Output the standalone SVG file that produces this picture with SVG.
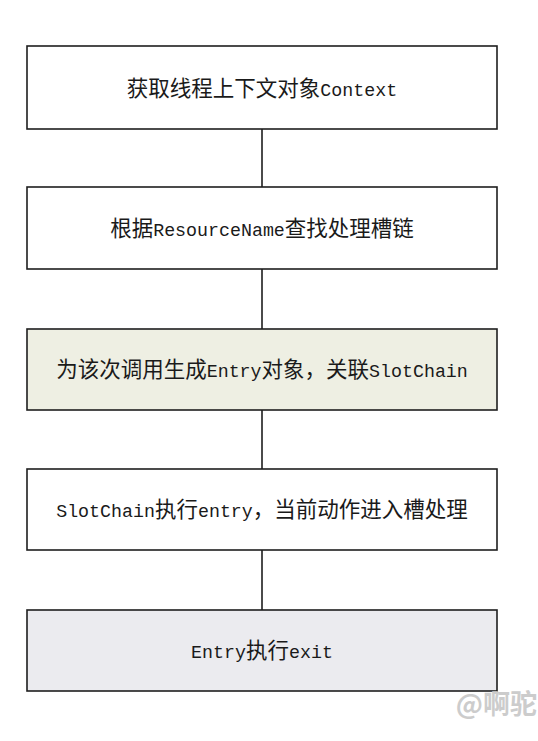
<svg xmlns="http://www.w3.org/2000/svg" width="538" height="741" viewBox="0 0 538 741">
<style>
.box{stroke:#1e1e1e;stroke-width:1.6}
.t{font-family:"Noto Sans CJK SC","DejaVu Sans",sans-serif;font-size:21.5px;fill:#1a1a1a;text-anchor:middle}
.m{font-family:"Liberation Mono","DejaVu Sans Mono",monospace;font-size:18.3px}
.c{stroke:#1e1e1e;stroke-width:1.6;fill:none}
.wm{font-family:"Noto Sans CJK SC",sans-serif;font-size:27px;font-weight:bold;fill:#cccccc}
</style>
<rect width="538" height="741" fill="#ffffff"/>
<g id="connectors">
<line class="c" x1="262" y1="129" x2="262" y2="187"/>
<line class="c" x1="262" y1="269" x2="262" y2="329"/>
<line class="c" x1="262" y1="410" x2="262" y2="469"/>
<line class="c" x1="262" y1="550" x2="262" y2="610"/>
</g>
<g id="n1">
<rect class="box" x="27" y="46" width="470" height="83" fill="#ffffff"/>
<text class="t" x="262" y="95.5">获取线程上下文对象<tspan class="m">Context</tspan></text>
</g>
<g id="n2">
<rect class="box" x="27" y="187" width="470" height="82" fill="#ffffff"/>
<text class="t" x="262" y="235.5">根据<tspan class="m">ResourceName</tspan>查找处理槽链</text>
</g>
<g id="n3">
<rect class="box" x="27" y="329" width="470" height="81" fill="#eeefe3"/>
<text class="t" x="262" y="377">为该次调用生成<tspan class="m">Entry</tspan>对象，关联<tspan class="m">SlotChain</tspan></text>
</g>
<g id="n4">
<rect class="box" x="27" y="469" width="470" height="81" fill="#ffffff"/>
<text class="t" x="262" y="517">
<tspan class="m">SlotChain</tspan>执行<tspan class="m">entry</tspan>，当前动作进入槽处理</text>
</g>
<g id="n5">
<rect class="box" x="27" y="610" width="470" height="81" fill="#ebebef"/>
<text class="t" x="262" y="658"><tspan class="m">Entry</tspan>执行<tspan class="m">exit</tspan></text>
</g>
<text class="wm" x="537" y="714" text-anchor="end">@啊驼</text>
</svg>
